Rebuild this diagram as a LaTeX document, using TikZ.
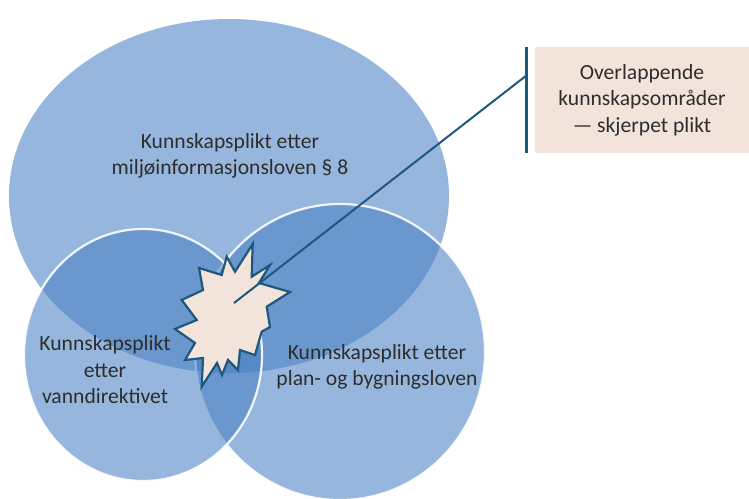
\documentclass[tikz,border=0pt]{standalone}
\usepackage{fontspec}
\setmainfont{Carlito}
\usepackage{tikz}
\usetikzlibrary{calc}
\definecolor{lawblue}{RGB}{72,127,195}
\definecolor{inkblue}{RGB}{31,88,125}
\definecolor{sand}{RGB}{242,228,218}
\definecolor{textgray}{RGB}{45,45,45}
\tikzset{
  lawfield/.style={fill=lawblue, fill opacity=0.57, draw=white, draw opacity=0.9, line width=2.2pt},
  lawtext/.style={text=textgray, align=center, font=\fontsize{21.6}{26.5}\selectfont},
}

\begin{document}
\begin{tikzpicture}[x=1pt,y=-1pt]
			%%%%% START %%%%%
			\useasboundingbox (0,0) rectangle (749,498);
			
			\fill[lawblue, fill opacity=0.57] (229,196) ellipse [x radius=220, y radius=177];
			\draw[lawfield] (340,352) ellipse [x radius=145, y radius=148];
			\draw[lawfield] (143,355) ellipse [x radius=119, y radius=126];
			
			\node[lawtext] (miljo) at (230,156) {Kunnskapsplikt etter\\milj\o informasjonsloven \S{} 8};
			\node[lawtext] (vann) at (105,370) {Kunnskapsplikt\\etter\\vanndirektivet};
			\node[lawtext] (plan) at (377,367) {Kunnskapsplikt etter\\plan- og bygningsloven};
			
			\draw[fill=sand, draw=inkblue, line width=2.2pt, line join=miter] (252.7,244) -- (251.7,276.7) -- (270,265) -- (259,283) -- (290,292) -- (266.7,306.7) -- (270,327) -- (261.7,331.7) -- (255,355) -- (240,350) -- (238,370) -- (228,360) -- (222,375) -- (217,363) -- (201.7,386.7) -- (203,358) -- (185,360) -- (195,343) -- (175,329) -- (196.7,320) -- (181.7,300) -- (203,290) -- (199,268) -- (221.7,275) -- (226.7,256.7) -- (235,271.7) -- cycle;
			\coordinate (flash) at (234,303);
			
			\node[fill=sand, lawtext, minimum width=214pt, minimum height=106pt, inner sep=0pt] (omr) at (642,100) {Overlappende\\kunnskapsomr\aa der\\--- skjerpet plikt};
			\draw[inkblue, line width=3pt] ([xshift=-8pt]omr.north west) -- ([xshift=-8pt]omr.south west);
			\coordinate (hook) at (527,75);
			\draw[inkblue, line width=2pt] (flash) -- (hook);
			
			%%%%% END %%%%%
		\end{tikzpicture}
\end{document}
